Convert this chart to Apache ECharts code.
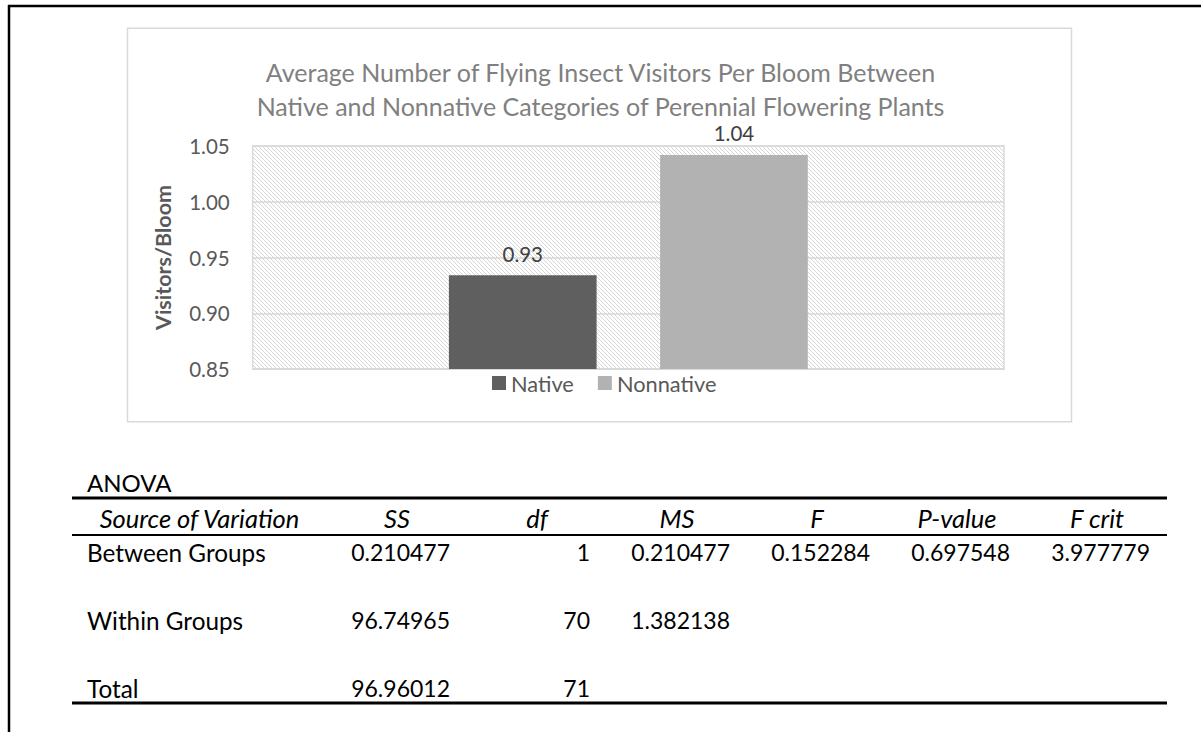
<!DOCTYPE html>
<html>
<head>
<meta charset="utf-8">
<script src="https://cdn.jsdelivr.net/npm/echarts@6/dist/echarts.min.js"></script>
<style>
html,body{margin:0;padding:0;background:#fff;}
#chart{width:1201px;height:732px;}
</style>
</head>
<body>
<div id="chart"></div>
<script>
// ---------- data ----------
const titleLines = ['Average Number of Flying Insect Visitors Per Bloom Between', 'Native and Nonnative Categories of Perennial Flowering Plants'];
const categories = [''];
const seriesNames = ['Native', 'Nonnative'];
const nativeValues = [0.934];
const nonnativeValues = [1.042];
const yMin = 0.85;
const yMax = 1.05;
const yInterval = 0.05;
const yAxisTitle = 'Visitors/Bloom';

const tableTitle = 'ANOVA';
const tableHeaders = ['Source of Variation', 'SS', 'df', 'MS', 'F', 'P-value', 'F crit'];
const rowBetween = ['Between Groups', '0.210477', '1', '0.210477', '0.152284', '0.697548', '3.977779'];
const rowWithin = ['Within Groups', '96.74965', '70', '1.382138', '', '', ''];
const rowTotal = ['Total', '96.96012', '71', '', '', '', ''];
const tableRows = [rowBetween, rowWithin, rowTotal];

// ---------- styling / layout ----------
const FONT = 'Lato, "Open Sans", sans-serif';
const colEdges = [72, 327, 467, 607, 747, 887, 1027, 1167];
const headerY = 518;
const rowY = [552, 620, 688];

function hatchPattern() {
  const c = document.createElement('canvas');
  c.width = 4; c.height = 4;
  const g = c.getContext('2d');
  g.fillStyle = '#ffffff';
  g.fillRect(0, 0, 4, 4);
  g.fillStyle = '#d6d6d6';
  for (let i = 0; i < 4; i++) g.fillRect(i, i, 1, 1);
  return c;
}

const graphics = [];
// outer frame (top and left)
graphics.push({type: 'line', shape: {x1: 8, y1: 6, x2: 1201, y2: 6}, style: {stroke: '#000', lineWidth: 2.5}, silent: true});
graphics.push({type: 'line', shape: {x1: 9, y1: 5, x2: 9, y2: 732}, style: {stroke: '#000', lineWidth: 2.5}, silent: true});
// chart area box
graphics.push({type: 'rect', shape: {x: 127.5, y: 28.3, width: 944, height: 393.4}, style: {fill: 'none', stroke: '#d9d9d9', lineWidth: 1.5}, silent: true, z: 0});
// table
graphics.push({type: 'text', x: 87, y: 482, style: {text: tableTitle, font: '24px ' + FONT, fill: '#000', textAlign: 'left', textVerticalAlign: 'middle'}});
graphics.push({type: 'line', shape: {x1: 72, y1: 498, x2: 1167, y2: 498}, style: {stroke: '#000', lineWidth: 3}});
graphics.push({type: 'line', shape: {x1: 72, y1: 535, x2: 1167, y2: 535}, style: {stroke: '#000', lineWidth: 2}});
graphics.push({type: 'line', shape: {x1: 72, y1: 703, x2: 1167, y2: 703}, style: {stroke: '#000', lineWidth: 3}});
tableHeaders.forEach((h, i) => {
  graphics.push({type: 'text', x: (colEdges[i] + colEdges[i + 1]) / 2, y: headerY,
    style: {text: h, font: 'italic 25.5px ' + FONT, fill: '#000', textAlign: 'center', textVerticalAlign: 'middle'}});
});
tableRows.forEach((row, r) => {
  row.forEach((cell, i) => {
    if (!cell) return;
    if (i === 0) {
      graphics.push({type: 'text', x: 87, y: rowY[r], style: {text: cell, font: '24.3px ' + FONT, fill: '#000', textAlign: 'left', textVerticalAlign: 'middle'}});
    } else {
      graphics.push({type: 'text', x: colEdges[i + 1] - 17, y: rowY[r], style: {text: cell, font: '23px ' + FONT, fill: '#000', textAlign: 'right', textVerticalAlign: 'middle'}});
    }
  });
});

const chart = echarts.init(document.getElementById('chart'), null, {renderer: 'svg', width: 1201, height: 732});
chart.setOption({
  backgroundColor: '#fff',
  animation: false,
  title: {
    text: titleLines.join('\n'),
    left: 'center',
    top: 50,
    textStyle: {fontFamily: FONT, fontSize: 25, fontWeight: 'normal', color: '#808080', lineHeight: 34}
  },
  legend: {
    data: seriesNames,
    left: 492,
    top: 372,
    padding: 0,
    itemWidth: 14,
    itemHeight: 14,
    itemGap: 24,
    icon: 'rect',
    textStyle: {fontFamily: FONT, fontSize: 21.8, color: '#595959'}
  },
  grid: {
    left: 252.7, top: 146, right: 197, height: 223,
    show: true,
    backgroundColor: {image: hatchPattern(), repeat: 'repeat'},
    borderColor: '#d9d9d9', borderWidth: 1.5,
    containLabel: false
  },
  xAxis: {
    type: 'category',
    data: categories,
    axisLine: {show: true, lineStyle: {color: '#d9d9d9', width: 1.5}},
    axisTick: {show: false},
    axisLabel: {show: false}
  },
  yAxis: {
    type: 'value',
    min: yMin, max: yMax, interval: yInterval,
    name: yAxisTitle,
    nameLocation: 'middle',
    nameGap: 79,
    nameRotate: 90,
    nameTextStyle: {fontFamily: FONT, fontSize: 21.5, fontWeight: 'bold', color: '#595959'},
    axisLine: {show: false},
    axisTick: {show: false},
    axisLabel: {margin: 23, fontFamily: FONT, fontSize: 20.5, color: '#595959', formatter: v => v.toFixed(2)},
    splitLine: {show: true, lineStyle: {color: '#d9d9d9', width: 1.5}}
  },
  series: [
    {
      name: seriesNames[0], type: 'bar', data: nativeValues,
      barWidth: 147.7, barGap: '43%',
      itemStyle: {color: '#5f5f5f'},
      label: {show: true, position: 'top', distance: 11, fontFamily: FONT, fontSize: 20.5, color: '#404040', formatter: p => p.value.toFixed(2)}
    },
    {
      name: seriesNames[1], type: 'bar', data: nonnativeValues,
      barWidth: 147.7, barGap: '43%',
      itemStyle: {color: '#b2b2b2'},
      label: {show: true, position: 'top', distance: 11, fontFamily: FONT, fontSize: 20.5, color: '#404040', formatter: p => p.value.toFixed(2)}
    }
  ],
  graphic: graphics
});
</script>
</body>
</html>
